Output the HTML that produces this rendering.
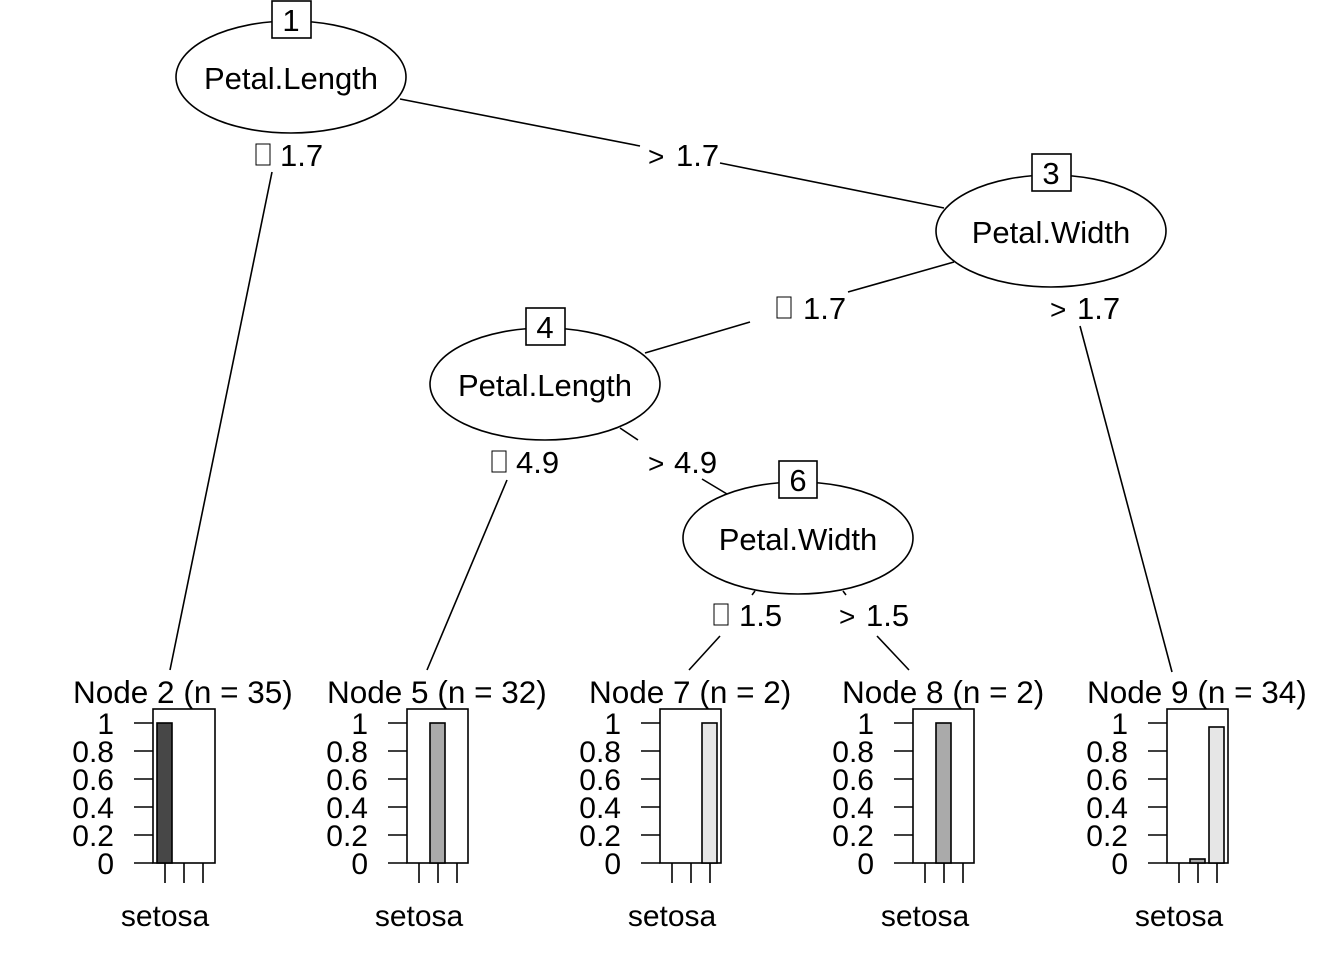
<!DOCTYPE html>
<html><head><meta charset="utf-8"><style>
html,body{margin:0;padding:0;background:#fff;}
svg{display:block;font-family:"Liberation Sans",Arial,sans-serif;}
text{stroke:none;}
</style></head><body>
<svg width="1344" height="960" viewBox="0 0 1344 960" xmlns="http://www.w3.org/2000/svg">
<rect width="1344" height="960" fill="#fff"/>
<g stroke="#000" stroke-width="1.6" fill="none">
<line x1="400" y1="99" x2="640" y2="146"/>
<line x1="720" y1="163" x2="944" y2="208"/>
<line x1="272" y1="172" x2="170" y2="670"/>
<line x1="954" y1="262" x2="848" y2="292"/>
<line x1="750" y1="322" x2="645" y2="353"/>
<line x1="1080" y1="326" x2="1172" y2="672"/>
<line x1="507" y1="480" x2="427" y2="670"/>
<line x1="620" y1="428" x2="638" y2="440"/>
<line x1="702" y1="479" x2="727" y2="494"/>
<line x1="755" y1="591" x2="752" y2="595"/>
<line x1="843" y1="591" x2="846" y2="595"/>
<line x1="720" y1="636" x2="689" y2="670"/>
<line x1="877" y1="636" x2="909" y2="670"/>
</g>
<g stroke="#000" stroke-width="1.6" fill="#fff">
<ellipse cx="291" cy="77" rx="115" ry="56"/>
<ellipse cx="1051" cy="231" rx="115" ry="56"/>
<ellipse cx="545" cy="384" rx="115" ry="56"/>
<ellipse cx="798" cy="538" rx="115" ry="56"/>
<rect x="272" y="1" width="39" height="37"/>
<rect x="1032" y="154" width="39" height="37"/>
<rect x="526" y="308" width="39" height="37"/>
<rect x="779" y="461" width="38" height="37"/>
</g>
<g font-size="31" text-anchor="middle" fill="#000">
<text x="291" y="31">1</text>
<text x="1051" y="184">3</text>
<text x="545" y="338">4</text>
<text x="798" y="491">6</text>
<text x="291" y="89">Petal.Length</text>
<text x="1051" y="243">Petal.Width</text>
<text x="545" y="396">Petal.Length</text>
<text x="798" y="550">Petal.Width</text>
</g>
<g font-size="31" fill="#000">
<text x="280" y="166">1.7</text>
<text x="648" y="166" font-size="28">&gt;</text><text x="676" y="166">1.7</text>
<text x="803" y="319">1.7</text>
<text x="1050" y="319" font-size="28">&gt;</text><text x="1077" y="319">1.7</text>
<text x="516" y="473">4.9</text>
<text x="648" y="473" font-size="28">&gt;</text><text x="674" y="473">4.9</text>
<text x="739" y="626">1.5</text>
<text x="839" y="626" font-size="28">&gt;</text><text x="866" y="626">1.5</text>
</g>
<g stroke="#000" stroke-width="1" fill="none">
<rect x="256" y="144" width="14" height="21"/>
<rect x="777" y="297" width="14" height="21"/>
<rect x="492" y="451" width="14" height="21"/>
<rect x="714" y="604" width="14" height="21"/>
</g>
<defs>
<g id="axes">
<g stroke="#000" stroke-width="1.6" fill="none">
<line x1="-19" y1="723" x2="0" y2="723"/>
<line x1="-19" y1="751" x2="0" y2="751"/>
<line x1="-19" y1="779" x2="0" y2="779"/>
<line x1="-19" y1="807" x2="0" y2="807"/>
<line x1="-19" y1="835" x2="0" y2="835"/>
<line x1="-19" y1="863" x2="0" y2="863"/>
<line x1="12" y1="863" x2="12" y2="883"/>
<line x1="31" y1="863" x2="31" y2="883"/>
<line x1="50" y1="863" x2="50" y2="883"/>
</g>
<g font-size="30" text-anchor="end" fill="#000" stroke="none">
<text x="-39" y="734">1</text>
<text x="-39" y="762">0.8</text>
<text x="-39" y="790">0.6</text>
<text x="-39" y="818">0.4</text>
<text x="-39" y="846">0.2</text>
<text x="-39" y="874">0</text>
</g>
<text x="12" y="926" font-size="30" text-anchor="middle" fill="#000" stroke="none">setosa</text>
</g>
</defs>
<g stroke="#000" stroke-width="1.6">
<g transform="translate(153,0)"><use href="#axes"/>
<rect x="0" y="709" width="62" height="154" fill="none"/>
<rect x="4" y="723" width="15" height="140" fill="#474747"/></g>
<g transform="translate(407,0)"><use href="#axes"/>
<rect x="0" y="709" width="61" height="154" fill="none"/>
<rect x="23" y="723" width="15" height="140" fill="#aaaaaa"/></g>
<g transform="translate(660,0)"><use href="#axes"/>
<rect x="0" y="709" width="61" height="154" fill="none"/>
<rect x="42" y="723" width="15" height="140" fill="#e6e6e6"/></g>
<g transform="translate(913,0)"><use href="#axes"/>
<rect x="0" y="709" width="61" height="154" fill="none"/>
<rect x="23" y="723" width="15" height="140" fill="#aaaaaa"/></g>
<g transform="translate(1167,0)"><use href="#axes"/>
<rect x="0" y="709" width="61" height="154" fill="none"/>
<rect x="23" y="859" width="15" height="4" fill="#aaaaaa"/>
<rect x="42" y="727" width="15" height="136" fill="#e6e6e6"/></g>
</g>
<g font-size="31.5" fill="#000">
<text x="73" y="703">Node 2 (n = 35)</text>
<text x="327" y="703">Node 5 (n = 32)</text>
<text x="589" y="703">Node 7 (n = 2)</text>
<text x="842" y="703">Node 8 (n = 2)</text>
<text x="1087" y="703">Node 9 (n = 34)</text>
</g>
</svg>
</body></html>
